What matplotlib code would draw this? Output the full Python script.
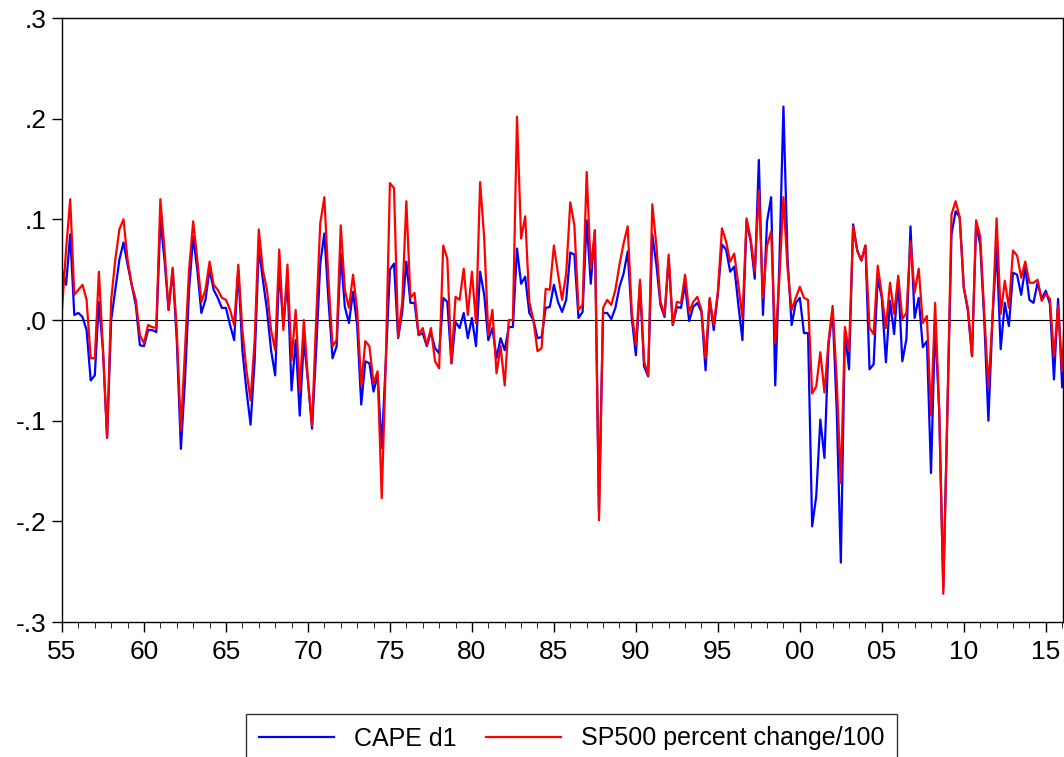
import matplotlib
matplotlib.use("Agg")
import matplotlib.pyplot as plt
import numpy as np

plt.rcParams['font.family'] = ['Liberation Sans', 'DejaVu Sans']

# quarterly data, 1955Q1 onwards
cape_d1 = [
    0.05, 0.035, 0.085, 0.005, 0.007, 0.003, -0.01, -0.06, -0.055, 0.018,
    -0.03, -0.117, 0.0, 0.03, 0.06, 0.077, 0.055, 0.035, 0.015, -0.025,
    -0.026, -0.01, -0.01, -0.012, 0.1, 0.06, 0.01, 0.05, -0.02, -0.128,
    -0.06, 0.03, 0.083, 0.05, 0.007, 0.02, 0.05, 0.03, 0.022, 0.012,
    0.012, -0.005, -0.02, 0.05, -0.03, -0.07, -0.104, -0.04, 0.072, 0.04,
    0.01, -0.03, -0.055, 0.05, -0.005, 0.04, -0.07, -0.02, -0.095, -0.02,
    -0.06, -0.108, -0.03, 0.056, 0.086, 0.02, -0.038, -0.026, 0.066, 0.013,
    -0.003, 0.028, -0.005, -0.084, -0.041, -0.043, -0.071, -0.055, -0.127, -0.04,
    0.05, 0.056, -0.018, 0.008, 0.058, 0.017, 0.017, -0.015, -0.013, -0.026,
    -0.012, -0.028, -0.033, 0.022, 0.018, -0.043, -0.002, -0.008, 0.007, -0.018,
    0.002, -0.026, 0.048, 0.025, -0.02, -0.008, -0.038, -0.018, -0.03, -0.007,
    -0.007, 0.071, 0.036, 0.043, 0.007, 0.0, -0.018, -0.017, 0.012, 0.013,
    0.035, 0.018, 0.008, 0.02, 0.067, 0.065, 0.002, 0.008, 0.099, 0.036,
    0.089, -0.19, 0.007, 0.007, 0.001, 0.012, 0.033, 0.046, 0.068, 0.002,
    -0.035, 0.035, -0.046, -0.056, 0.085, 0.055, 0.015, 0.003, 0.061, -0.005,
    0.013, 0.012, 0.035, -0.001, 0.013, 0.017, 0.008, -0.05, 0.02, -0.01,
    0.026, 0.075, 0.07, 0.048, 0.053, 0.015, -0.02, 0.098, 0.078, 0.041,
    0.159, 0.005, 0.098, 0.122, -0.065, 0.055, 0.212, 0.061, -0.005, 0.017,
    0.022, -0.013, -0.013, -0.205, -0.175, -0.099, -0.137, -0.024, 0.009, -0.09,
    -0.241, -0.011, -0.049, 0.095, 0.069, 0.059, 0.074, -0.049, -0.044, 0.042,
    0.022, -0.042, 0.019, -0.014, 0.039, -0.041, -0.019, 0.093, 0.002, 0.022,
    -0.027, -0.021, -0.152, -0.004, -0.09, -0.266, -0.09, 0.085, 0.108, 0.102,
    0.032, 0.009, -0.036, 0.095, 0.075, -0.001, -0.1, 0.002, 0.072, -0.029,
    0.017, -0.006, 0.047, 0.045, 0.025, 0.052, 0.02, 0.017, 0.037, 0.021,
    0.029, 0.016, -0.059, 0.021, -0.067, -0.02,
]
sp500_pct = [
    0.01, 0.07, 0.12, 0.025, 0.03, 0.035, 0.02, -0.038, -0.038, 0.048,
    -0.03, -0.117, 0.02, 0.06, 0.09, 0.1, 0.06, 0.035, 0.02, -0.015,
    -0.023, -0.005, -0.007, -0.008, 0.12, 0.07, 0.01, 0.052, -0.01, -0.11,
    -0.03, 0.05, 0.098, 0.06, 0.018, 0.03, 0.058, 0.035, 0.03, 0.022,
    0.02, 0.01, -0.005, 0.055, -0.01, -0.05, -0.08, -0.02, 0.09, 0.05,
    0.03, -0.01, -0.03, 0.07, -0.01, 0.055, -0.04, 0.01, -0.07, 0.0,
    -0.06, -0.105, 0.0, 0.096, 0.122, 0.04, -0.026, -0.02, 0.094, 0.03,
    0.012, 0.045, 0.01, -0.065, -0.021, -0.026, -0.063, -0.051, -0.177, -0.04,
    0.136, 0.131, -0.017, 0.018, 0.118, 0.022, 0.027, -0.015, -0.008, -0.025,
    -0.008, -0.041, -0.048, 0.074, 0.061, -0.043, 0.023, 0.02, 0.051, 0.005,
    0.048, -0.003, 0.137, 0.081, -0.015, 0.01, -0.053, -0.026, -0.065, 0.0,
    0.0, 0.202, 0.081, 0.103, 0.018, 0.0, -0.031, -0.028, 0.031, 0.03,
    0.074, 0.046, 0.02, 0.046, 0.117, 0.094, 0.01, 0.015, 0.147, 0.051,
    0.089, -0.199, 0.012, 0.02, 0.015, 0.03, 0.055, 0.076, 0.093, 0.008,
    -0.025, 0.04, -0.041, -0.055, 0.115, 0.074, 0.018, 0.005, 0.065, -0.005,
    0.018, 0.017, 0.045, 0.008, 0.018, 0.023, 0.01, -0.038, 0.022, -0.005,
    0.028, 0.091, 0.078, 0.058, 0.066, 0.035, 0.002, 0.101, 0.081, 0.048,
    0.129, 0.022, 0.074, 0.088, -0.023, 0.041, 0.122, 0.051, 0.01, 0.022,
    0.033, 0.022, 0.02, -0.073, -0.066, -0.032, -0.072, -0.021, 0.014, -0.06,
    -0.162, -0.007, -0.031, 0.093, 0.069, 0.059, 0.074, -0.008, -0.014, 0.054,
    0.025, -0.008, 0.037, 0.006, 0.044, 0.001, 0.007, 0.078, 0.027, 0.051,
    -0.003, 0.004, -0.095, 0.017, -0.09, -0.272, -0.09, 0.105, 0.118, 0.102,
    0.032, 0.012, -0.036, 0.099, 0.083, 0.006, -0.067, 0.002, 0.101, 0.006,
    0.039, 0.012, 0.069, 0.064, 0.042, 0.058, 0.037, 0.037, 0.04, 0.019,
    0.026, 0.021, -0.036, 0.014, -0.051, 0.032,
]
years = 1955 + np.arange(len(cape_d1)) / 4.0
xtick_years = list(range(1955, 2016, 5))
xtick_labels = ["%02d" % (y % 100) for y in xtick_years]
yticks = [-0.3, -0.2, -0.1, 0.0, 0.1, 0.2, 0.3]
ytick_labels = ["-.3", "-.2", "-.1", ".0", ".1", ".2", ".3"]

fig = plt.figure(figsize=(10.64, 7.57), dpi=100)
ax = fig.add_axes([62/1064, 1 - 622/757, 1001/1064, 604/757])

ax.axhline(0, color="black", lw=0.8)
ax.plot(years, cape_d1, color="#0000ff", lw=1.6, label="CAPE d1")
ax.plot(years, sp500_pct, color="#ff0000", lw=1.6, label="SP500 percent change/100")

ax.set_xlim(1955, 2016.05)
ax.set_ylim(-0.3, 0.3)
ax.set_xticks(xtick_years)
ax.set_xticklabels(xtick_labels)
ax.set_xticks(np.arange(1955, 2017, 1), minor=True)
ax.set_yticks(yticks)
ax.set_yticklabels(ytick_labels)
ax.tick_params(axis="both", labelsize=19, direction="out", length=7, width=1)
ax.tick_params(axis="x", which="minor", direction="out", length=4)
ax.tick_params(axis="x", pad=6)
ax.tick_params(axis="y", pad=4)
for s in ax.spines.values():
    s.set_linewidth(1)

leg = ax.legend(loc="upper left", bbox_to_anchor=(184/1001, -92/604), ncol=2,
                fontsize=18, frameon=True, fancybox=False, edgecolor="black",
                handlelength=3.0, borderaxespad=0, columnspacing=1.2,
                borderpad=0.5)
leg.get_frame().set_linewidth(1)

fig.savefig("out.png", dpi=100)
